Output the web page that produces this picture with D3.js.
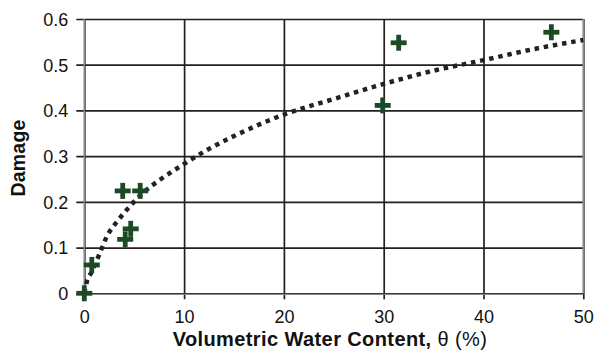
<!DOCTYPE html>
<html><head><meta charset="utf-8">
<script src="https://cdn.jsdelivr.net/npm/d3@7"></script>
<style>
html,body{margin:0;padding:0;background:#fff;}
svg{display:block;font-family:"Liberation Sans",Arial,Helvetica,sans-serif;}
</style></head>
<body><svg id="c" width="600" height="352"></svg>
<script>
// Observed data points (θ %, damage)
const waterContent = [0, 0.75, 3.85, 5.6, 4.65, 4.1, 29.9, 31.5, 46.8];
const damage       = [0, 0.062, 0.224, 0.224, 0.141, 0.118, 0.411, 0.548, 0.571];
// Dotted trend line
const trendX = [0, 0.25, 0.75, 1.5, 2.25, 3.4, 4.6, 6, 7.5, 10, 12.5, 15, 17.5, 20, 25, 30, 35, 40, 45, 50];
const trendY = [0, 0.025, 0.047, 0.085, 0.124, 0.16, 0.191, 0.222, 0.247, 0.283, 0.316, 0.344, 0.369, 0.391, 0.425, 0.458, 0.487, 0.51, 0.534, 0.554];
const xTicks = [0, 10, 20, 30, 40, 50];
const yTicks = [0, 0.1, 0.2, 0.3, 0.4, 0.5, 0.6];
const yTickLabels = ["0", "0.1", "0.2", "0.3", "0.4", "0.5", "0.6"];

const L = 84.3, R = 583.3, T = 19, B = 293.3;
const svg = d3.select("#c");
const x = d3.scaleLinear().domain([0, 50]).range([L, R]);
const y = d3.scaleLinear().domain([0, 0.6]).range([B, T]);
const ink = "#231f20";

// horizontal gridlines + y ticks
const gy = svg.append("g").attr("transform", `translate(${L - 8},0)`)
  .call(d3.axisLeft(y).tickValues(yTicks).tickFormat((d, i) => yTickLabels[i])
    .tickSize(-(R - L + 8)).tickPadding(8));
gy.select(".domain").remove();
gy.selectAll(".tick line").attr("stroke", ink).attr("stroke-width", 1.7);
gy.selectAll(".tick text").attr("fill", "#111").style("font-size", "18px").attr("dy", "0.35em");

// vertical gridlines + x ticks
const gx = svg.append("g").attr("transform", `translate(0,${B + 6})`)
  .call(d3.axisBottom(x).tickValues(xTicks).tickFormat(d3.format("d"))
    .tickSize(-(B + 6 - T)).tickPadding(11));
gx.select(".domain").remove();
gx.selectAll(".tick line").attr("stroke", ink).attr("stroke-width", 1.7);
gx.selectAll(".tick text").attr("fill", "#111").style("font-size", "18px");

// frame (gray)
svg.append("line").attr("x1", L).attr("x2", L).attr("y1", T).attr("y2", B)
  .attr("stroke", "#8a8a8a").attr("stroke-width", 1.6);
svg.append("line").attr("x1", R).attr("x2", R).attr("y1", T).attr("y2", B)
  .attr("stroke", "#8a8a8a").attr("stroke-width", 1.6);
svg.append("line").attr("x1", L).attr("x2", R).attr("y1", B + 1).attr("y2", B + 1)
  .attr("stroke", "#999").attr("stroke-width", 1);

// trend line
const trend = trendX.map((v, i) => [v, trendY[i]]);
svg.append("path").datum(trend)
  .attr("d", d3.line().x(d => x(d[0])).y(d => y(d[1])).curve(d3.curveMonotoneX))
  .attr("fill", "none").attr("stroke", "#222").attr("stroke-width", 4.5)
  .attr("stroke-dasharray", "4.5,4.8");

// plus markers
const pts = waterContent.map((v, i) => [v, damage[i]]);
const mk = svg.append("g").attr("stroke", "#1c4a24").attr("stroke-width", 4.8);
mk.selectAll("g").data(pts).join("g").each(function (d) {
  const g = d3.select(this), cx = x(d[0]), cy = y(d[1]), h = 8;
  g.append("line").attr("x1", cx - h).attr("x2", cx + h).attr("y1", cy).attr("y2", cy);
  g.append("line").attr("x1", cx).attr("x2", cx).attr("y1", cy - h).attr("y2", cy + h);
});

// axis titles
const xt = svg.append("text").attr("x", 330).attr("y", 346).attr("text-anchor", "middle")
  .style("font-size", "20px").style("letter-spacing", "0.4px").attr("fill", "#111");
xt.append("tspan").style("font-weight", "bold").text("Volumetric Water Content, ");
xt.append("tspan").text("θ (%)");
svg.append("text").attr("transform", "translate(25,158) rotate(-90)").attr("text-anchor", "middle")
  .style("font-size", "19.5px").style("letter-spacing", "0.2px").style("font-weight", "bold")
  .attr("fill", "#111").text("Damage");
</script></body></html>
